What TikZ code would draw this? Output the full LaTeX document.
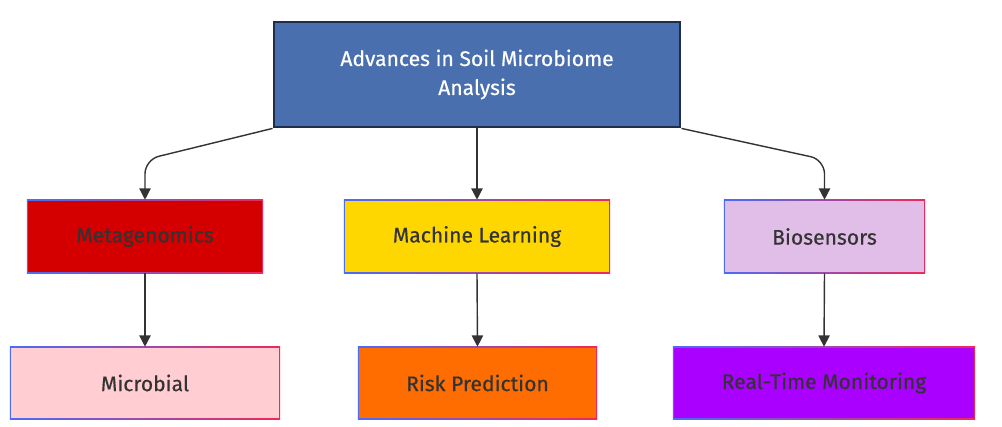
\documentclass[tikz,border=0pt]{standalone}
\usepackage{fontspec}
\setmainfont[FakeBold=0.4]{Fira Sans}
\usetikzlibrary{arrows.meta}

\definecolor{topblue}{HTML}{4A6FAE}
\definecolor{topedge}{HTML}{1E2D4A}
\definecolor{metared}{HTML}{D40000}
\definecolor{mlyellow}{HTML}{FFD700}
\definecolor{biolilac}{HTML}{E1BEE7}
\definecolor{micropink}{HTML}{FFCDD2}
\definecolor{riskorange}{HTML}{FF6D00}
\definecolor{rtmpurple}{HTML}{AA00FF}
\definecolor{edgeblue}{HTML}{4A6CF7}
\definecolor{edgered}{HTML}{F0285A}
\definecolor{textgray}{HTML}{333333}
\definecolor{linegray}{HTML}{333333}

\tikzset{
  box/.style={minimum height=1.825cm, text=textgray, font=\fontsize{15}{18}\selectfont,
    left color=edgeblue, right color=edgered,
    path picture={\fill[#1] ([xshift=1pt,yshift=1pt]path picture bounding box.south west)
      rectangle ([xshift=-1pt,yshift=-1pt]path picture bounding box.north east);}},
  arr/.style={draw=linegray, line width=1pt, rounded corners=10pt,
    -{Triangle[width=8pt,length=8pt]}}
}

\begin{document}
\begin{tikzpicture}[x=0.025cm, y=-0.025cm]
  \useasboundingbox (0,0) rectangle (1002,427);
  \node[fill=topblue, draw=topedge, line width=2pt, text=white, align=center,
        minimum width=10.15cm, minimum height=2.625cm,
        font=\fontsize{15}{20.6}\selectfont] (top) at (477,74.5)
        {Advances in Soil Microbiome\\Analysis};

  \node[box=metared, minimum width=5.9cm] (meta) at (145,236.5) {Metagenomics};
  \node[box=mlyellow, minimum width=6.65cm] (ml) at (477,236.5) {Machine Learning};
  \node[box=biolilac, minimum width=5.025cm] (bio) at (824.5,236.5) {Biosensors};

  \node[box=micropink, minimum width=6.75cm, minimum height=1.8cm] (micro) at (145,383) {Microbial};
  \node[box=riskorange, minimum width=5.975cm, minimum height=1.8cm] (risk) at (477.5,383) {Risk Prediction};
  \node[box=rtmpurple, minimum width=7.55cm, minimum height=1.8cm] (rtm) at (824,383) {Real-Time Monitoring};

  \draw[arr] (top.south west) -- ([yshift=1cm]meta.north) -- (meta.north);
  \draw[arr] (top.south) -- (ml.north);
  \draw[arr] (top.south east) -- ([yshift=1cm]bio.north) -- (bio.north);

  \draw[arr] (meta.south) -- (micro.north);
  \draw[arr] (ml.south) -- (risk.north);
  \draw[arr] (bio.south) -- (rtm.north);
\end{tikzpicture}
\end{document}
